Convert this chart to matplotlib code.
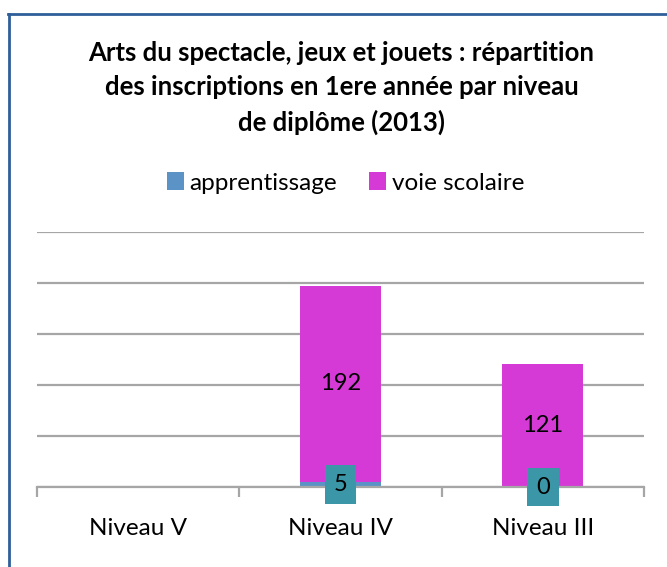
import matplotlib.pyplot as plt
from matplotlib.lines import Line2D

plt.rcParams['font.family'] = ['Lato', 'DejaVu Sans']

niveaux = ['Niveau V', 'Niveau IV', 'Niveau III']
apprentissage = [0, 5, 0]
voie_scolaire = [0, 192, 121]
# which bars carry a value label (Niveau V has none)
show_label = [False, True, True]

c_app = '#5B93C7'
c_voie = '#D63AD6'
c_box = '#3B97A8'

fig = plt.figure(figsize=(6.67, 5.67), dpi=100)
ax = fig.add_axes([37 / 667, 80 / 567, 607 / 667, 255 / 567])

x = range(len(niveaux))
b1 = ax.bar(x, apprentissage, width=0.4, color=c_app, label='apprentissage', zorder=2)
b2 = ax.bar(x, voie_scolaire, width=0.4, bottom=apprentissage, color=c_voie,
            label='voie scolaire', zorder=2)

for i in x:
    if not show_label[i]:
        continue
    ax.text(i, apprentissage[i] / 2, str(apprentissage[i]), ha='center', va='center',
            fontsize=17, zorder=4,
            bbox=dict(boxstyle='square,pad=0.38', fc=c_box, ec='none'))
    ax.text(i, apprentissage[i] + voie_scolaire[i] / 2, str(voie_scolaire[i]),
            ha='center', va='center', fontsize=17, zorder=4)

ax.set_xlim(-0.5, 2.5)
ax.set_ylim(0, 250)
ax.set_yticks(range(0, 251, 50))
ax.yaxis.grid(True, color='#A6A6A6', linewidth=1.6)
ax.set_axisbelow(True)
ax.tick_params(axis='y', left=False, labelleft=False)
ax.set_xticks([-0.5, 0.5, 1.5, 2.5], minor=False)
ax.set_xticklabels([])
ax.set_xticks(list(x), minor=True)
ax.set_xticklabels(niveaux, minor=True, fontsize=17.5)
ax.tick_params(axis='x', which='major', length=7, width=1.6, color='#A6A6A6')
ax.tick_params(axis='x', which='minor', length=0, pad=22)
for s in ['top', 'right', 'left']:
    ax.spines[s].set_visible(False)
ax.spines['bottom'].set_color('#A6A6A6')
ax.spines['bottom'].set_linewidth(1.6)

fig.text(0.512, 1 - 88 / 567,
         "Arts du spectacle, jeux et jouets : répartition\n"
         "des inscriptions en 1ere année par niveau\n"
         "de diplôme (2013)",
         ha='center', va='center', fontsize=18.5, fontweight='bold',
         linespacing=1.5)

fig.legend(handles=[b1, b2], loc='center', bbox_to_anchor=(0.518, 1 - 183 / 567),
           ncol=2, frameon=False, fontsize=17.5, handlelength=0.7, handleheight=0.7,
           handletextpad=0.25, columnspacing=1.3)

# outer frame (only left and top edges visible)
fig.add_artist(Line2D([9 / 667, 9 / 667], [0, 1 - 14 / 567], color='#2F5F98', lw=2))
fig.add_artist(Line2D([8 / 667, 1], [1 - 14 / 567, 1 - 14 / 567], color='#2F5F98', lw=2))

fig.savefig('out.png', dpi=100)
